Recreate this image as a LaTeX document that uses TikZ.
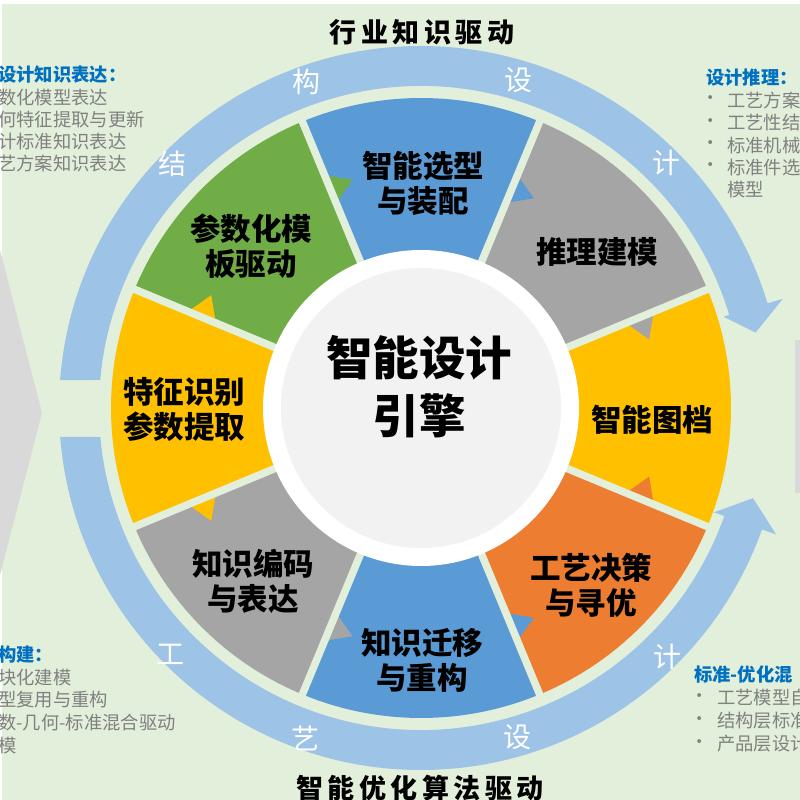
\documentclass[tikz,border=0pt]{standalone}
\usepackage{fontspec}
\setmainfont{Noto Sans CJK SC}
\definecolor{bg}{HTML}{E2EFDA}
\definecolor{chev}{HTML}{D9D9D9}
\definecolor{bandblue}{HTML}{9DC3E6}
\definecolor{cYel}{HTML}{FFC000}
\definecolor{cGrn}{HTML}{70AD47}
\definecolor{cBlu}{HTML}{5B9BD5}
\definecolor{cGry}{HTML}{A5A5A5}
\definecolor{cOra}{HTML}{ED7D31}
\definecolor{innergray}{HTML}{F2F2F2}
\definecolor{headblue}{HTML}{0070C0}
\definecolor{sidegray}{HTML}{808080}
\newcommand\tgap{\hspace{4.5pt}}
\tikzset{
  seglabel/.style={font=\fontsize{30.5}{35}\selectfont\bfseries, align=center, text=black, inner sep=0pt},
  bandlabel/.style={font=\fontsize{28}{30}\selectfont, text=white, inner sep=0pt},
  centerlabel/.style={font=\fontsize{46.5}{58}\selectfont\bfseries, align=center, text=black, inner sep=0pt},
  titlelabel/.style={font=\fontsize{27}{30}\selectfont\bfseries, text=black, inner sep=0pt},
  sidehead/.style={font=\fontsize{18.3}{21}\selectfont\bfseries, text=headblue, anchor=west, inner sep=0pt},
  sideline/.style={font=\fontsize{18.3}{21}\selectfont, text=sidegray, anchor=west, inner sep=0pt},
  bulletmark/.style={font=\fontsize{18.3}{21}\selectfont, text=sidegray, inner sep=0pt},
  bandshape/.style={fill=bandblue},
  gapline/.style={draw=bg, line width=7.5pt}
}
\begin{document}
\begin{tikzpicture}[x=1pt,y=1pt]
\useasboundingbox (0,0) rectangle (800,800);
\clip (0,0) rectangle (800,800);
\fill[white] (0,0) rectangle (800,800);
\fill[bg] (2,0) rectangle (800,796);
% neighbouring shapes cut by the edges
\fill[chev] (0,550) -- (42,387) -- (0,225) -- cycle;
\fill[chev] (795,307) rectangle (800,460);

\begin{scope}[shift={(421,392)}]
  % outer arrows
  \fill[bandshape] (175.57:362pt) arc[start angle=175.57, end angle=16.8, radius=362pt]
     -- (16.8:378pt) -- (12.7:343pt) -- (16.8:316pt) -- (16.8:322pt)
     arc[start angle=16.8, end angle=175.01, radius=322pt] -- cycle;
  \fill[bandshape] (184.59:362pt) arc[start angle=184.59, end angle=340.4, radius=362pt]
     -- (340.4:377pt) -- (344.8:344pt) -- (340.4:311pt) -- (340.4:322pt)
     arc[start angle=340.4, end angle=185.17, radius=322pt] -- cycle;
  % segments
  \foreach \a/\c in {0/cYel,45/cGry,90/cBlu,135/cGrn,180/cYel,225/cGry,270/cBlu,315/cOra}{
    \fill[\c] (0,0) -- (\a-22.5:310pt) arc[start angle=\a-22.5, end angle=\a+22.5, radius=310pt] -- cycle;
  }
  % flow triangles
  \foreach \b/\t/\c in {157.5/151.72/cYel,112.5/106.72/cGrn,67.5/61.72/cBlu,22.5/16.72/cGry,
                        -157.5/-151.72/cYel,-112.5/-106.72/cGry,-67.5/-61.72/cBlu,-22.5/-16.72/cOra}{
    \fill[\c] (\b:222pt) -- (\t:238.2pt) -- (\b:252pt) -- cycle;
  }
  % gaps
  \foreach \b in {22.5,67.5,112.5,157.5,202.5,247.5,292.5,337.5}{
    \draw[gapline] (\b:140pt) -- (\b:318pt);
  }
  % centre
  \fill[white] (0,0) circle[radius=158pt];
  \fill[innergray] (0,0) circle[radius=140pt];
  % band labels
  \node[bandlabel] (b1) at (135.5:349pt) {结};
  \node[bandlabel] (b2) at (109.4:346pt) {构};
  \node[bandlabel] (b3) at (73.4:342pt) {设};
  \node[bandlabel] (b4) at (45:347pt) {计};
  \node[bandlabel] (b5) at (-135.5:351pt) {工};
  \node[bandlabel] (b6) at (-109.2:350pt) {艺};
  \node[bandlabel] (b7) at (-73.7:343pt) {设};
  \node[bandlabel] (b8) at (-45.3:350pt) {计};
\end{scope}

% segment labels
\node[seglabel] (s1) at (251,554) {参数化模\\板驱动};
\node[seglabel] (s2) at (423,617) {智能选型\\与装配};
\node[seglabel] (s3) at (597,548) {推理建模};
\node[seglabel] (s4) at (652,380) {智能图档};
\node[seglabel] (s5) at (591,215) {工艺决策\\与寻优};
\node[seglabel] (s6) at (422,140) {知识迁移\\与重构};
\node[seglabel] (s7) at (253,219) {知识编码\\与表达};
\node[seglabel] (s8) at (184,391) {特征识别\\参数提取};
\node[centerlabel] (core) at (419,413) {智能设计\\引擎};

% titles
\node[titlelabel] (t1) at (422,768) {行\tgap 业\tgap 知\tgap 识\tgap 驱\tgap 动};
\node[titlelabel] (t2) at (420,11.5) {智\tgap 能\tgap 优\tgap 化\tgap 算\tgap 法\tgap 驱\tgap 动};

% top-left text
\node[sidehead] (tl0) at (-2,725.5) {设计知识表达：};
\node[sideline] (tl1) at (-2,702.5) {数化模型表达};
\node[sideline] (tl2) at (-2,680.5) {何特征提取与更新};
\node[sideline] (tl3) at (-2,658.5) {计标准知识表达};
\node[sideline] (tl4) at (-2,636.5) {艺方案知识表达};

% top-right text
\node[sidehead] (tr0) at (706,722.5) {设计推理：};
\node[bulletmark] (trb1) at (711,699.5) {•};
\node[bulletmark] (trb2) at (711,677) {•};
\node[bulletmark] (trb3) at (711,654.5) {•};
\node[bulletmark] (trb4) at (711,632.5) {•};
\node[sideline] (tr1) at (727,699.5) {工艺方案};
\node[sideline] (tr2) at (727,677) {工艺性结};
\node[sideline] (tr3) at (727,654.5) {标准机械};
\node[sideline] (tr4) at (727,632.5) {标准件选};
\node[sideline] (tr5) at (727,610) {模型};

% bottom-left text
\node[sidehead] (bl0) at (-2,145) {构建：};
\node[sideline] (bl1) at (-2,122.5) {块化建模};
\node[sideline] (bl2) at (-2,100) {型复用与重构};
\node[sideline] (bl3) at (-2,77) {数-几何-标准混合驱动};
\node[sideline] (bl4) at (-2,54.5) {模};

% bottom-right text
\node[sidehead] (br0) at (694,125) {标准-优化混};
\node[bulletmark] (brb1) at (700,102) {•};
\node[bulletmark] (brb2) at (700,79) {•};
\node[bulletmark] (brb3) at (700,56) {•};
\node[sideline] (br1) at (717,102) {工艺模型自};
\node[sideline] (br2) at (717,79) {结构层标准};
\node[sideline] (br3) at (717,56) {产品层设计};
\end{tikzpicture}
\end{document}
